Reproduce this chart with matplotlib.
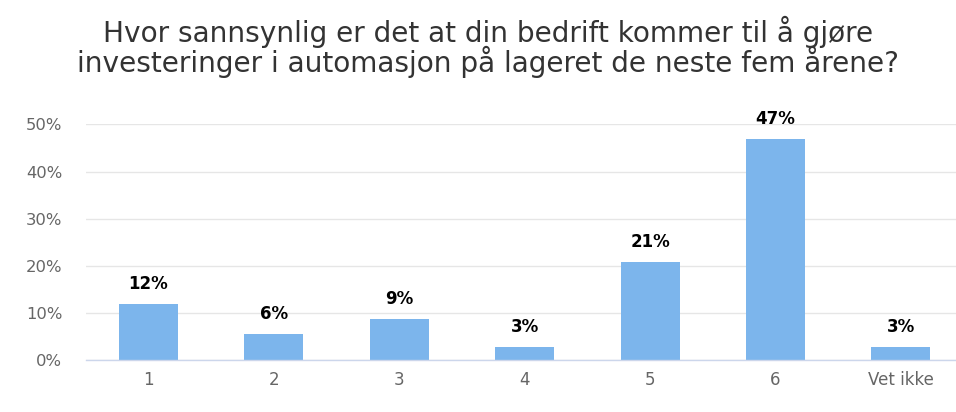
import matplotlib
matplotlib.use("Agg")
import matplotlib.pyplot as plt

categories = ["1", "2", "3", "4", "5", "6", "Vet ikke"]
values = [11.9, 5.6, 8.8, 2.8, 20.8, 46.9, 2.8]
labels = ["12%", "6%", "9%", "3%", "21%", "47%", "3%"]
yticks = [0, 10, 20, 30, 40, 50]
ytick_labels = ["0%", "10%", "20%", "30%", "40%", "50%"]
title_lines = ["Hvor sannsynlig er det at din bedrift kommer til å gjøre",
               "investeringer i automasjon på lageret de neste fem årene?"]

plt.rcParams['font.family'] = ['DejaVu Sans']
W, H = 956, 412
fig = plt.figure(figsize=(W/100, H/100), dpi=100)
left = 85.8 / W
width = 877.8 / W
bottom = 51.7 / H
height = 236.0 / H
ax = fig.add_axes([left, bottom, width, height])

x = list(range(len(categories)))
ax.bar(x, values, width=0.47, color="#7cb5ec", zorder=3)
for xi, v, lab in zip(x, values, labels):
    ax.annotate(lab, (xi, v), xytext=(0, 8), textcoords="offset points",
                ha="center", va="bottom", fontsize=12, fontweight="bold", color="#000000")

ax.set_xlim(-0.5, len(categories) - 0.5)
ax.set_ylim(0, 50)
ax.set_yticks(yticks)
ax.set_yticklabels(ytick_labels)
ax.set_xticks(x)
ax.set_xticklabels(categories)
ax.tick_params(axis="y", length=0, pad=17, labelsize=11.8, labelcolor="#666666")
ax.tick_params(axis="x", length=0, pad=8, labelsize=12, labelcolor="#666666")
ax.grid(axis="y", color="#e6e6e6", linewidth=1, zorder=0)
for s in ["top", "right", "left"]:
    ax.spines[s].set_visible(False)
ax.spines["bottom"].set_color("#ccd6eb")
ax.spines["bottom"].set_linewidth(1)
ax.spines["bottom"].set_zorder(4)

for line, yb in zip(title_lines, [41.5, 72.5]):
    fig.text(488 / W, 1 - yb/H, line, ha="center", va="baseline", fontsize=20.2,
             color="#333333")

fig.savefig("out.png", dpi=100)
